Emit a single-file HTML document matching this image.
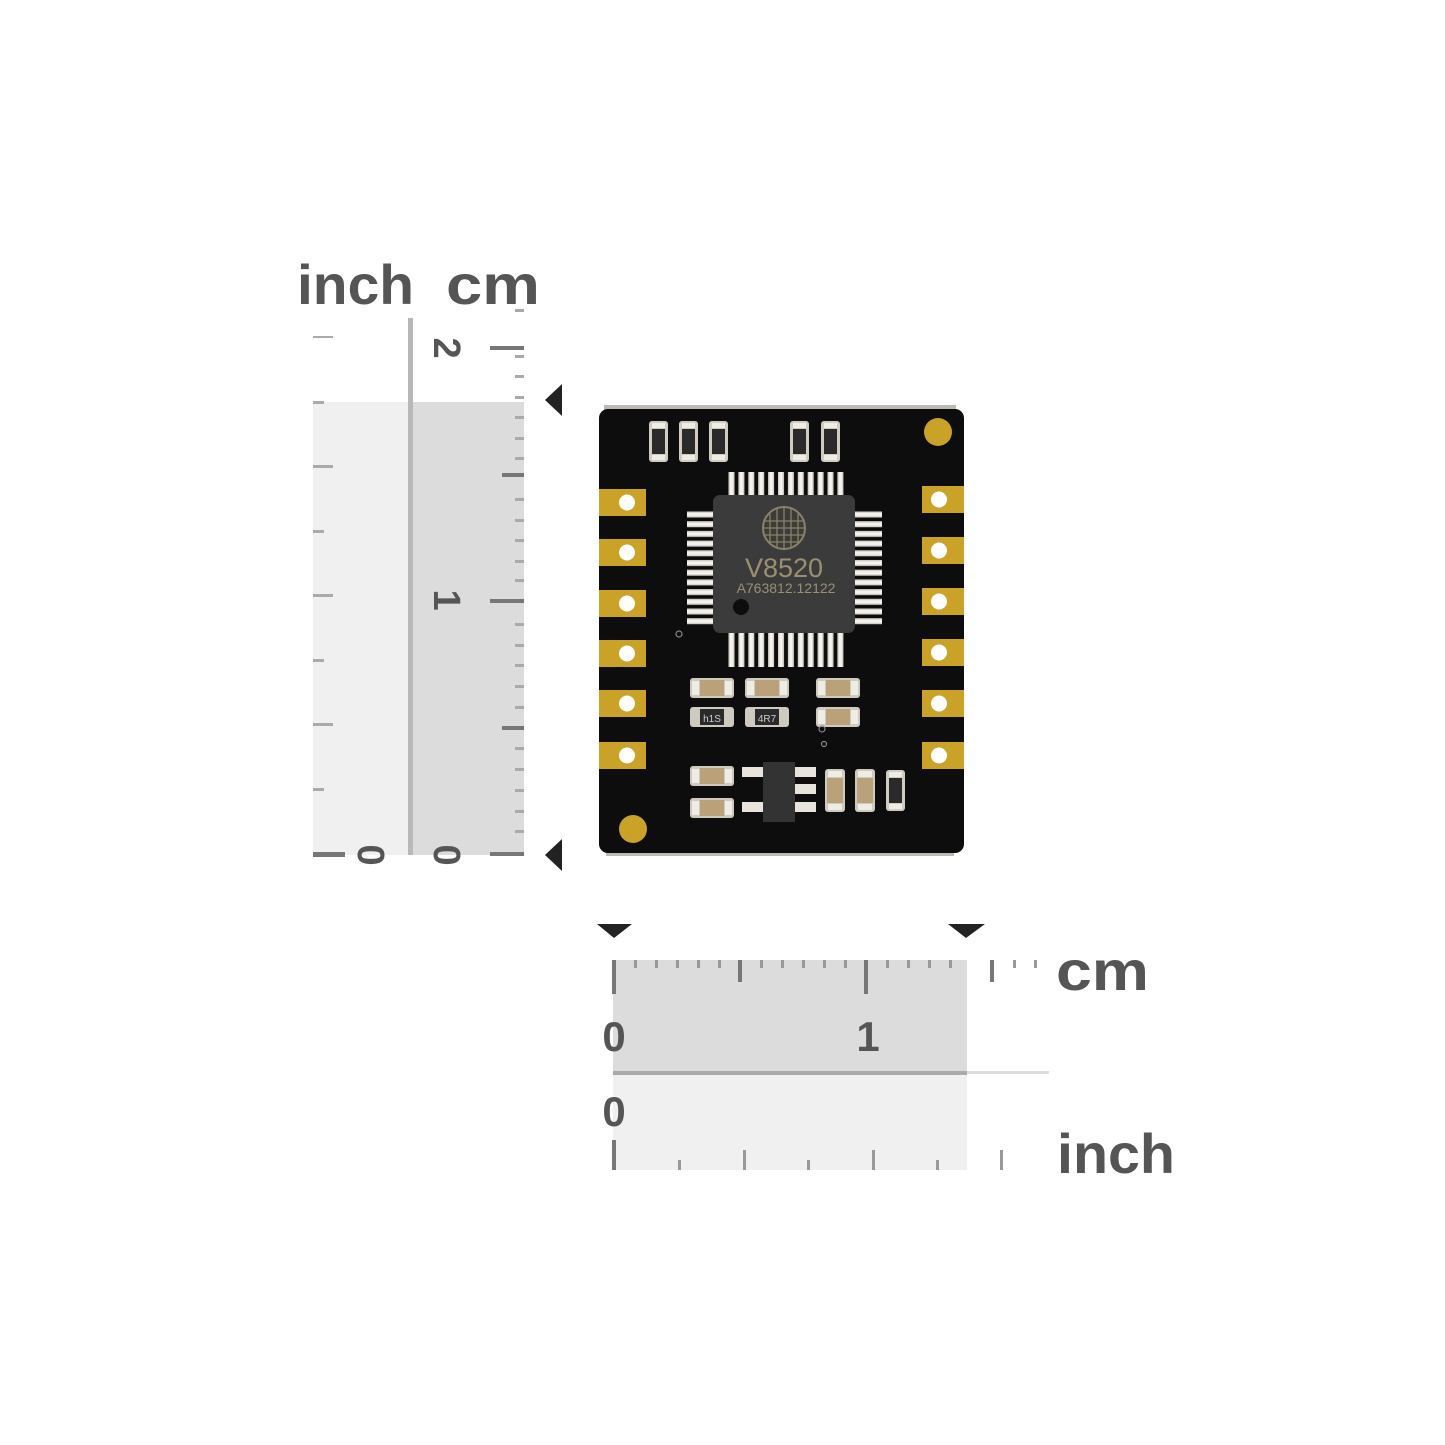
<!DOCTYPE html>
<html><head><meta charset="utf-8"><style>
html,body{margin:0;padding:0;background:#fff;}
svg{display:block}
text{font-family:"Liberation Sans",sans-serif;}
</style></head><body>
<svg width="1445" height="1445" viewBox="0 0 1445 1445" xmlns="http://www.w3.org/2000/svg">
<defs>
<pattern id="pv" x="727" y="0" width="9.9" height="10" patternUnits="userSpaceOnUse"><rect x="1.5" y="0" width="6" height="10" fill="#d8d4cc"/><rect x="3" y="0" width="3" height="10" fill="#f4f2ee"/></pattern>
<pattern id="ph" x="0" y="510" width="10" height="9.7" patternUnits="userSpaceOnUse"><rect x="0" y="1.5" width="10" height="6" fill="#d8d4cc"/><rect x="0" y="3" width="10" height="3" fill="#f4f2ee"/></pattern>
<g id="capH"><rect x="0" y="0" width="44" height="20" rx="3" fill="#cfcac0"/><rect x="10" y="2" width="24" height="16" fill="#b9a27a"/><rect x="2" y="3" width="7" height="14" fill="#efece6"/><rect x="35" y="3" width="7" height="14" fill="#efece6"/></g>
<g id="capV"><rect x="0" y="0" width="20" height="43" rx="3" fill="#cfcac0"/><rect x="2" y="9" width="16" height="25" fill="#b9a27a"/><rect x="3" y="2" width="14" height="6" fill="#efece6"/><rect x="3" y="35" width="14" height="6" fill="#efece6"/></g>
<g id="resV"><rect x="0" y="0" width="19" height="41" rx="3" fill="#d0ccc4"/><rect x="3" y="8" width="13" height="25" fill="#2a2a2a"/><rect x="3" y="2" width="13" height="5" fill="#efece6"/><rect x="3" y="34" width="13" height="5" fill="#efece6"/></g>
<g id="padL"><rect x="0" y="0" width="47" height="27" fill="#c9a227"/><circle cx="28" cy="13.5" r="8" fill="#fff"/></g>
<g id="padR"><rect x="0" y="0" width="42" height="27" fill="#c9a227"/><circle cx="17" cy="13.5" r="8" fill="#fff"/></g>
</defs>

<!-- left ruler -->
<text x="297" y="304" font-size="56" font-weight="bold" fill="#555" textLength="117" lengthAdjust="spacingAndGlyphs">inch</text>
<text x="446" y="304" font-size="56" font-weight="bold" fill="#555" textLength="94" lengthAdjust="spacingAndGlyphs">cm</text>
<rect x="313" y="402" width="97" height="453" fill="#f0f0f0"/>
<rect x="412" y="402" width="112" height="453" fill="#dcdcdc"/>
<rect x="408" y="318" width="5" height="537" fill="#b8b8b8"/>
<g fill="#aaa">
<rect x="313" y="336" width="20" height="2"/><rect x="313" y="401" width="11" height="3"/>
<rect x="313" y="465" width="20" height="3"/><rect x="313" y="530" width="11" height="3"/>
<rect x="313" y="594" width="20" height="3"/><rect x="313" y="659" width="11" height="3"/>
<rect x="313" y="723" width="20" height="3"/><rect x="313" y="788" width="11" height="3"/>
</g>
<rect x="313" y="852" width="32" height="5" fill="#777"/>
<g fill="#aaa">
<rect x="515" y="309" width="9" height="3"/><rect x="515" y="355" width="9" height="3"/><rect x="515" y="375" width="9" height="3"/>
<rect x="515" y="396" width="9" height="3"/><rect x="515" y="416" width="9" height="3"/><rect x="515" y="437" width="9" height="3"/>
<rect x="515" y="457" width="9" height="3"/><rect x="515" y="498" width="9" height="3"/><rect x="515" y="519" width="9" height="3"/>
<rect x="515" y="539" width="9" height="3"/><rect x="515" y="560" width="9" height="3"/><rect x="515" y="579" width="9" height="3"/>
<rect x="515" y="623" width="9" height="3"/><rect x="515" y="644" width="9" height="3"/><rect x="515" y="664" width="9" height="3"/>
<rect x="515" y="685" width="9" height="3"/><rect x="515" y="706" width="9" height="3"/><rect x="515" y="747" width="9" height="3"/>
<rect x="515" y="768" width="9" height="3"/><rect x="515" y="789" width="9" height="3"/><rect x="515" y="810" width="9" height="3"/>
<rect x="515" y="830" width="9" height="3"/>
</g>
<g fill="#777">
<rect x="490" y="346" width="34" height="4"/><rect x="502" y="473" width="22" height="4"/>
<rect x="490" y="599" width="34" height="4"/><rect x="502" y="726" width="22" height="4"/>
<rect x="490" y="852" width="34" height="4"/>
</g>
<g fill="#555" font-size="38" font-weight="bold">
<text transform="translate(434,348) rotate(90)" text-anchor="middle">2</text>
<text transform="translate(434,600) rotate(90)" text-anchor="middle">1</text>
<text transform="translate(434,855) rotate(90)" text-anchor="middle">0</text>
<text transform="translate(358,855) rotate(90)" text-anchor="middle">0</text>
</g>
<polygon points="562,384 562,416 545,400" fill="#222"/>
<polygon points="562,839 562,871 545,855" fill="#222"/>

<!-- bottom ruler -->
<polygon points="597,924 632,924 614,938" fill="#222"/>
<polygon points="948,924 985,924 966,938" fill="#222"/>
<rect x="613" y="960" width="354" height="112" fill="#dcdcdc"/>
<rect x="613" y="1074" width="354" height="96" fill="#f0f0f0"/>
<rect x="613" y="1071" width="354" height="4" fill="#aaa"/>
<rect x="967" y="1071" width="82" height="3" fill="#ddd"/>
<g fill="#999">
<rect x="634" y="960" width="3" height="8"/><rect x="655" y="960" width="3" height="8"/><rect x="676" y="960" width="3" height="8"/><rect x="697" y="960" width="3" height="8"/><rect x="718" y="960" width="3" height="8"/>
<rect x="760" y="960" width="3" height="8"/><rect x="781" y="960" width="3" height="8"/><rect x="802" y="960" width="3" height="8"/><rect x="823" y="960" width="3" height="8"/><rect x="844" y="960" width="3" height="8"/>
<rect x="886" y="960" width="3" height="8"/><rect x="907" y="960" width="3" height="8"/><rect x="928" y="960" width="3" height="8"/><rect x="949" y="960" width="3" height="8"/>
<rect x="1013" y="960" width="3" height="8"/><rect x="1034" y="960" width="3" height="8"/>
</g>
<g fill="#777">
<rect x="612" y="960" width="4" height="34"/><rect x="738" y="960" width="4" height="22"/>
<rect x="864" y="960" width="4" height="34"/><rect x="990" y="960" width="4" height="22"/>
</g>
<g fill="#999">
<rect x="678" y="1160" width="3" height="10"/><rect x="743" y="1150" width="3" height="20"/><rect x="807" y="1160" width="3" height="10"/>
<rect x="872" y="1150" width="3" height="20"/><rect x="936" y="1160" width="3" height="10"/><rect x="1000" y="1150" width="3" height="20"/>
</g>
<rect x="612" y="1140" width="4" height="30" fill="#777"/>
<g fill="#555" font-size="42" font-weight="bold">
<text x="614" y="1051" text-anchor="middle">0</text>
<text x="868" y="1051" text-anchor="middle">1</text>
<text x="614" y="1126" text-anchor="middle">0</text>
</g>
<text x="1056" y="990" font-size="56" font-weight="bold" fill="#555" textLength="93" lengthAdjust="spacingAndGlyphs">cm</text>
<text x="1057" y="1173" font-size="56" font-weight="bold" fill="#555" textLength="118" lengthAdjust="spacingAndGlyphs">inch</text>

<!-- PCB -->
<rect x="604" y="405" width="352" height="5" fill="#bdbab2"/>
<rect x="606" y="850" width="348" height="6" fill="#bdbab2"/>
<rect x="599" y="409" width="365" height="444" rx="9" fill="#0d0d0d"/>
<use href="#padL" x="599" y="489"/><use href="#padL" x="599" y="539"/><use href="#padL" x="599" y="590"/>
<use href="#padL" x="599" y="640"/><use href="#padL" x="599" y="690"/><use href="#padL" x="599" y="742"/>
<use href="#padR" x="922" y="486"/><use href="#padR" x="922" y="537"/><use href="#padR" x="922" y="588"/>
<use href="#padR" x="922" y="639"/><use href="#padR" x="922" y="690"/><use href="#padR" x="922" y="742"/>
<circle cx="938" cy="432" r="14" fill="#c9a227"/>
<circle cx="633" cy="829" r="14" fill="#c9a227"/>
<use href="#resV" x="649" y="421"/><use href="#resV" x="679" y="421"/><use href="#resV" x="709" y="421"/>
<use href="#resV" x="790" y="421"/><use href="#resV" x="821" y="421"/>
<!-- QFP -->
<rect x="727" y="472" width="118" height="24" fill="url(#pv)"/>
<rect x="727" y="632" width="118" height="35" fill="url(#pv)"/>
<rect x="687" y="510" width="27" height="117" fill="url(#ph)"/>
<rect x="854" y="510" width="28" height="117" fill="url(#ph)"/>
<rect x="713" y="495" width="142" height="138" rx="7" fill="#3b3b3b"/>
<circle cx="784" cy="528" r="21" fill="none" stroke="#8a8264" stroke-width="2"/>
<path d="M770 514V542M777 508V548M784 507V549M791 508V548M798 514V542M764 521H804M763 528H805M764 535H804M768 542H800" stroke="#8a8264" stroke-width="1.3" fill="none"/>
<text x="784" y="577" font-size="27" fill="#9a9070" text-anchor="middle" font-family="Liberation Mono">V8520</text>
<text x="786" y="593" font-size="14" fill="#9a9070" text-anchor="middle" font-family="Liberation Mono">A763812.12122</text>
<circle cx="741" cy="607" r="8" fill="#0d0d0d"/>
<!-- caps -->
<use href="#capH" x="690" y="678"/><use href="#capH" x="745" y="678"/><use href="#capH" x="816" y="678"/>
<rect x="690" y="707" width="44" height="20" rx="3" fill="#cfcac0"/><rect x="700" y="709" width="24" height="16" fill="#2a2a2a"/>
<text x="712" y="722" font-size="10" fill="#ccc" text-anchor="middle">h1S</text>
<rect x="745" y="707" width="44" height="20" rx="3" fill="#cfcac0"/><rect x="755" y="709" width="24" height="16" fill="#2a2a2a"/>
<text x="767" y="722" font-size="10" fill="#ccc" text-anchor="middle">4R7</text>
<use href="#capH" x="816" y="707"/>
<use href="#capH" x="690" y="766"/><use href="#capH" x="690" y="798"/>
<g fill="#e8e4dc">
<rect x="742" y="767" width="22" height="10"/><rect x="742" y="802" width="22" height="10"/>
<rect x="794" y="767" width="22" height="10"/><rect x="794" y="784" width="22" height="10"/><rect x="794" y="802" width="22" height="10"/>
</g>
<rect x="763" y="762" width="32" height="60" fill="#333"/>
<use href="#capV" x="825" y="769"/><use href="#capV" x="855" y="769"/><use href="#resV" x="886" y="770"/>
<g fill="none" stroke="#888" stroke-width="1.2"><circle cx="679" cy="634" r="3"/><circle cx="822" cy="729" r="3"/><circle cx="824" cy="744" r="2.5"/></g>
</svg>
</body></html>
